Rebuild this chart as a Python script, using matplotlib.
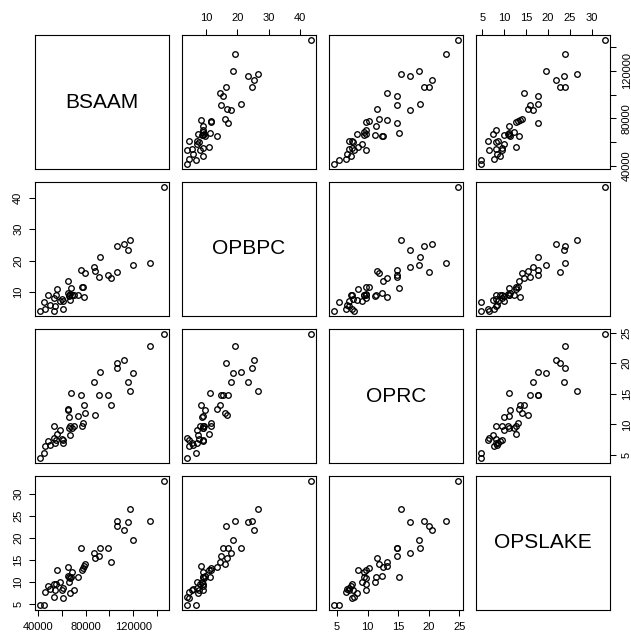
import matplotlib
matplotlib.use('Agg')
import matplotlib.pyplot as plt

# water data, one entry per year
names = ['BSAAM', 'OPBPC', 'OPRC', 'OPSLAKE']

bsaam = [146000, 117400, 134400, 106600, 106600, 115800, 112100, 119900, 76500, 92400,
         99100, 87100, 87900, 91500, 101600, 79600, 78400, 77600, 76800, 56400,
         65100, 69000, 73700, 65100, 66500, 67600, 70100, 67000, 58900, 55000,
         53400, 48100, 50300, 54500, 60600, 60900, 46100, 53900, 60900, 41700,
         44700, 67300, 66500]
opbpc = [43.4, 26.6, 19.4, 24.5, 16.4, 23.4, 25.4, 18.6, 17.05, 21.3,
         15.3, 18.1, 16.7, 14.8, 14.5, 16.0, 8.5, 11.6, 11.6, 10.9,
         13.6, 9.05, 9.05, 9.6, 8.7, 11.3, 9.2, 7.6, 7.1, 9.05,
         8.1, 9.05, 5.8, 5.6, 7.8, 7.1, 4.7, 4.0, 4.8, 4.1,
         6.8, 9.4, 9.2]
oprc = [24.8, 15.45, 22.9, 19.2, 20.1, 17.0, 20.5, 18.4, 14.75, 18.6,
        14.85, 17.0, 11.6, 14.75, 13.2, 11.9, 13.2, 10.3, 9.7, 8.4,
        12.5, 9.4, 11.3, 12.3, 11.2, 15.2, 9.8, 8.3, 9.1, 7.4,
        9.7, 7.3, 6.7, 6.9, 7.6, 7.0, 6.4, 7.7, 7.5, 4.5,
        5.4, 9.8, 9.4]
opslake = [33.0, 26.5, 23.8, 23.8, 22.8, 23.7, 21.9, 19.5, 17.8, 17.6,
           17.6, 16.5, 15.5, 15.8, 14.5, 14.0, 13.5, 13.1, 12.6, 12.6,
           13.4, 12.15, 11.1, 11.3, 9.9, 11.2, 8.2, 7.5, 9.9, 9.6,
           9.6, 9.1, 8.4, 8.2, 8.2, 8.6, 7.7, 6.6, 6.4, 4.7,
           4.8, 10.8, 11.0]

bsaam_ticks = [40000, 60000, 80000, 100000, 120000, 140000]
bsaam_labels = ['40000', '', '80000', '', '120000', '']
opbpc_ticks = [10, 20, 30, 40]
oprc_ticks = [5, 10, 15, 20, 25]
opslake_ticks = [5, 10, 15, 20, 25, 30]

data = [bsaam, opbpc, oprc, opslake]
ticks = [bsaam_ticks, opbpc_ticks, oprc_ticks, opslake_ticks]
labels = [bsaam_labels, [str(t) for t in opbpc_ticks],
          [str(t) for t in oprc_ticks], [str(t) for t in opslake_ticks]]

plt.rcParams['font.family'] = ['Liberation Sans', 'DejaVu Sans']

W, H = 631, 634
fig = plt.figure(figsize=(W / 100, H / 100), dpi=100)

lefts = [35, 182, 329, 476]
tops = [35, 182, 329, 476]
size = 134


def lims(v):
    lo, hi = min(v), max(v)
    d = (hi - lo) * 0.04
    return lo - d, hi + d


for i in range(4):
    for j in range(4):
        ax = fig.add_axes([lefts[j] / W, 1 - (tops[i] + size) / H, size / W, size / H])
        ax.set_xlim(lims(data[j]))
        ax.set_ylim(lims(data[i]))
        for s in ax.spines.values():
            s.set_linewidth(0.8)
        ax.tick_params(which='both', length=4.5, width=0.75, labelsize=8, pad=4,
                       bottom=False, top=False, left=False, right=False,
                       labelbottom=False, labeltop=False, labelleft=False, labelright=False)
        ax.set_xticks(ticks[j])
        ax.set_xticklabels(labels[j])
        ax.set_yticks(ticks[i])
        ax.set_yticklabels(labels[i])
        if i == j:
            ax.text(0.5, 0.5, names[i], transform=ax.transAxes, ha='center', va='center',
                    fontsize=15)
        else:
            ax.plot(data[j], data[i], 'o', mfc='none', mec='black', ms=4.0, mew=0.95)
        if i == 0 and j % 2 == 1:
            ax.tick_params(axis='x', top=True, labeltop=True)
        if i == 3 and j % 2 == 0:
            ax.tick_params(axis='x', bottom=True, labelbottom=True)
        if j == 0 and i % 2 == 1:
            ax.tick_params(axis='y', left=True, labelleft=True, labelrotation=90)
            for t in ax.get_yticklabels():
                t.set_va('center')
        if j == 3 and i % 2 == 0:
            ax.tick_params(axis='y', right=True, labelright=True, labelrotation=90)
            for t in ax.get_yticklabels():
                t.set_va('center')

fig.savefig('out.png', dpi=100)
